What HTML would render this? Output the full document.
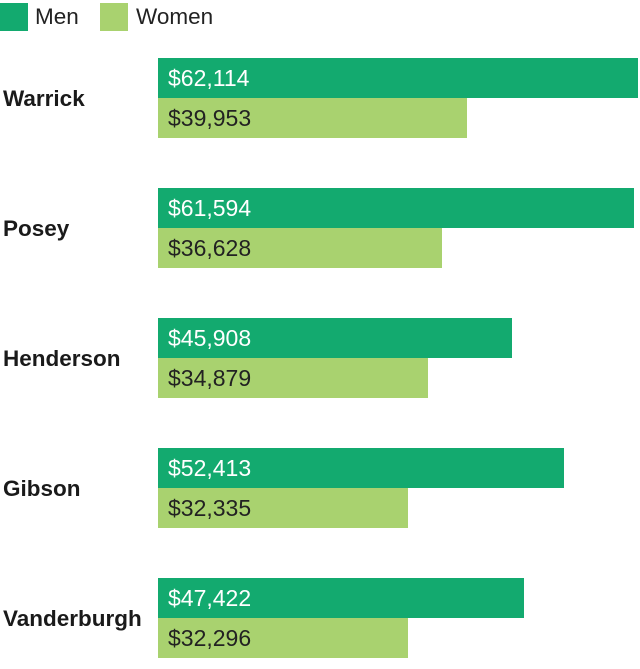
<!DOCTYPE html>
<html><head><style>
body{margin:0;width:640px;height:669px;background:#fff;font-family:"Liberation Sans",sans-serif;position:relative;overflow:hidden}
div{position:absolute}
.sq{width:28px;height:28px;top:3px}
.lt{top:3px;font-size:22.5px;line-height:28px;color:#222}
.lab{left:3px;font-size:22.5px;font-weight:bold;color:#1a1a1a;line-height:30px}
.m,.w{left:158px;height:40px;font-size:23px;line-height:40px;padding-left:10px;box-sizing:border-box}
.m{background:#13aa6f;color:#fff}
.w{background:#a9d26f;color:#222}
</style></head><body>
<div class="sq" style="left:0;background:#13aa6f"></div><div class="lt" style="left:35px">Men</div>
<div class="sq" style="left:100px;background:#a9d26f"></div><div class="lt" style="left:136px">Women</div>

<div class="lab" style="top:84px">Warrick</div>
<div class="m" style="top:58px;width:480px">$62,114</div>
<div class="w" style="top:98px;width:309px">$39,953</div>

<div class="lab" style="top:214px">Posey</div>
<div class="m" style="top:188px;width:476px">$61,594</div>
<div class="w" style="top:228px;width:284px">$36,628</div>

<div class="lab" style="top:344px">Henderson</div>
<div class="m" style="top:318px;width:354px">$45,908</div>
<div class="w" style="top:358px;width:270px">$34,879</div>

<div class="lab" style="top:474px">Gibson</div>
<div class="m" style="top:448px;width:406px">$52,413</div>
<div class="w" style="top:488px;width:250px">$32,335</div>

<div class="lab" style="top:604px">Vanderburgh</div>
<div class="m" style="top:578px;width:366px">$47,422</div>
<div class="w" style="top:618px;width:250px">$32,296</div>
</body></html>
